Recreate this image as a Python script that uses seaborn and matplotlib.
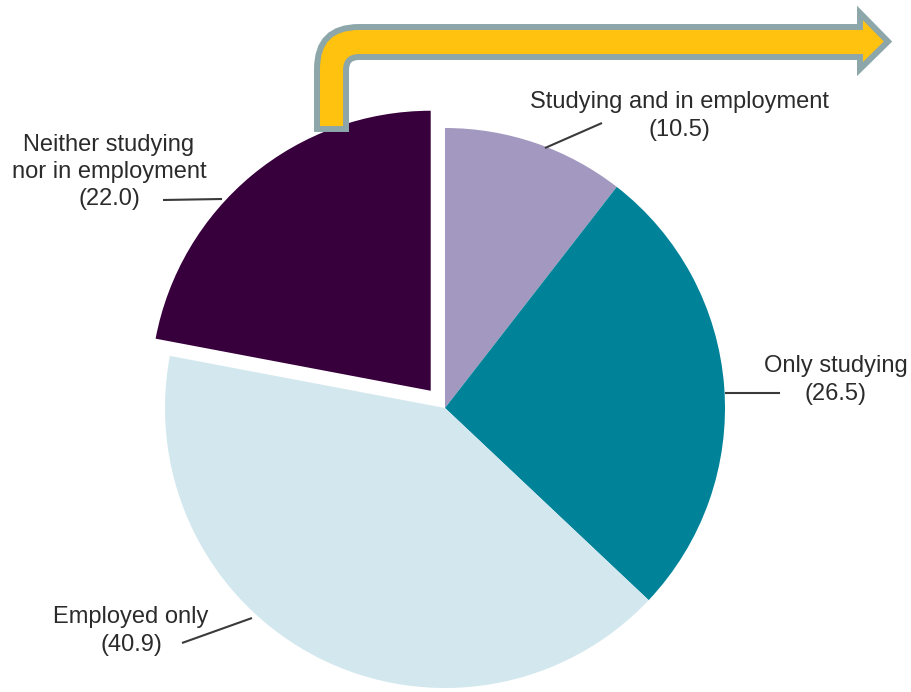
import matplotlib
matplotlib.use("Agg")
import matplotlib.pyplot as plt
from matplotlib.path import Path
from matplotlib.patches import PathPatch
import seaborn as sns

# Share of young people by activity status (%)
categories = ["Studying and in employment", "Only studying", "Employed only",
              "Neither studying\nnor in employment"]
values = [10.5, 26.5, 40.9, 22.0]
slice_colors = ["#A399C0", "#008299", "#D2E8EE", "#37003C"]
explode = [0, 0, 0, 0.08]

sns.set_theme(style="white")
plt.rcParams["font.family"] = ["Liberation Sans", "DejaVu Sans"]

W, H, DPI = 911, 692, 100
R_PX = 280.0           # pie radius in pixels
CX, CY = 445.0, 408.0  # pie centre in pixels (from top-left)


def to_data(px, py):
    return (px - CX) / R_PX, (CY - py) / R_PX


fig = plt.figure(figsize=(W / DPI, H / DPI), dpi=DPI)
fig.patch.set_facecolor("white")
ax = fig.add_axes([0, 0, 1, 1])

palette = sns.color_palette(slice_colors)
ax.pie(values, colors=palette, startangle=90, counterclock=False,
       explode=explode, radius=1.0, wedgeprops=dict(linewidth=0))

ax.set_aspect("auto")
ax.set_xlim(-CX / R_PX, (W - CX) / R_PX)
ax.set_ylim(-(H - CY) / R_PX, CY / R_PX)
ax.axis("off")

# Label layout: text centre and leader line end points (pixels)
label_layout = [
    ((679, 116), ((545, 148), (602, 123))),
    ((836, 380), ((725, 393), (780, 393))),
    ((131, 631), ((182, 643), (252, 618))),
    ((109, 172), ((163, 200), (222, 199))),
]

for name, val, (tpos, (p0, p1)) in zip(categories, values, label_layout):
    tx, ty = to_data(*tpos)
    ax.text(tx, ty, f"{name}\n({val:.1f})", ha="center", va="center",
            fontsize=17, color="#2b2b2b", linespacing=1.3)
    x0, y0 = to_data(*p0)
    x1, y1 = to_data(*p1)
    ax.plot([x0, x1], [y0, y1], color="#3a3a3a", lw=1.5, solid_capstyle="butt")

# Bent call-out arrow drawn in pixel space on an overlay axes
ov = fig.add_axes([0, 0, 1, 1], zorder=3)
ov.set_xlim(0, W)
ov.set_ylim(H, 0)
ov.axis("off")
ov.patch.set_alpha(0)

verts = [
    (317.0, 129.0),
    (346.0, 129.0),
    (346.0, 70.0),
    (346.0, 57.0), (359.0, 57.0),
    (860.0, 57.0),
    (860.0, 69.0),
    (888.0, 41.5),
    (860.0, 13.0),
    (860.0, 27.0),
    (359.0, 27.0),
    (317.0, 27.0), (317.0, 69.0),
    (317.0, 129.0),
]
codes = [
    Path.MOVETO,
    Path.LINETO,
    Path.LINETO,
    Path.CURVE3, Path.CURVE3,
    Path.LINETO,
    Path.LINETO,
    Path.LINETO,
    Path.LINETO,
    Path.LINETO,
    Path.LINETO,
    Path.CURVE3, Path.CURVE3,
    Path.CLOSEPOLY,
]
arrow = PathPatch(Path(verts, codes), facecolor="#FFC20E", edgecolor="#8DA6A9",
                  linewidth=4.3, joinstyle="miter")
ov.add_patch(arrow)

fig.savefig("out.png", dpi=DPI, facecolor="white")
